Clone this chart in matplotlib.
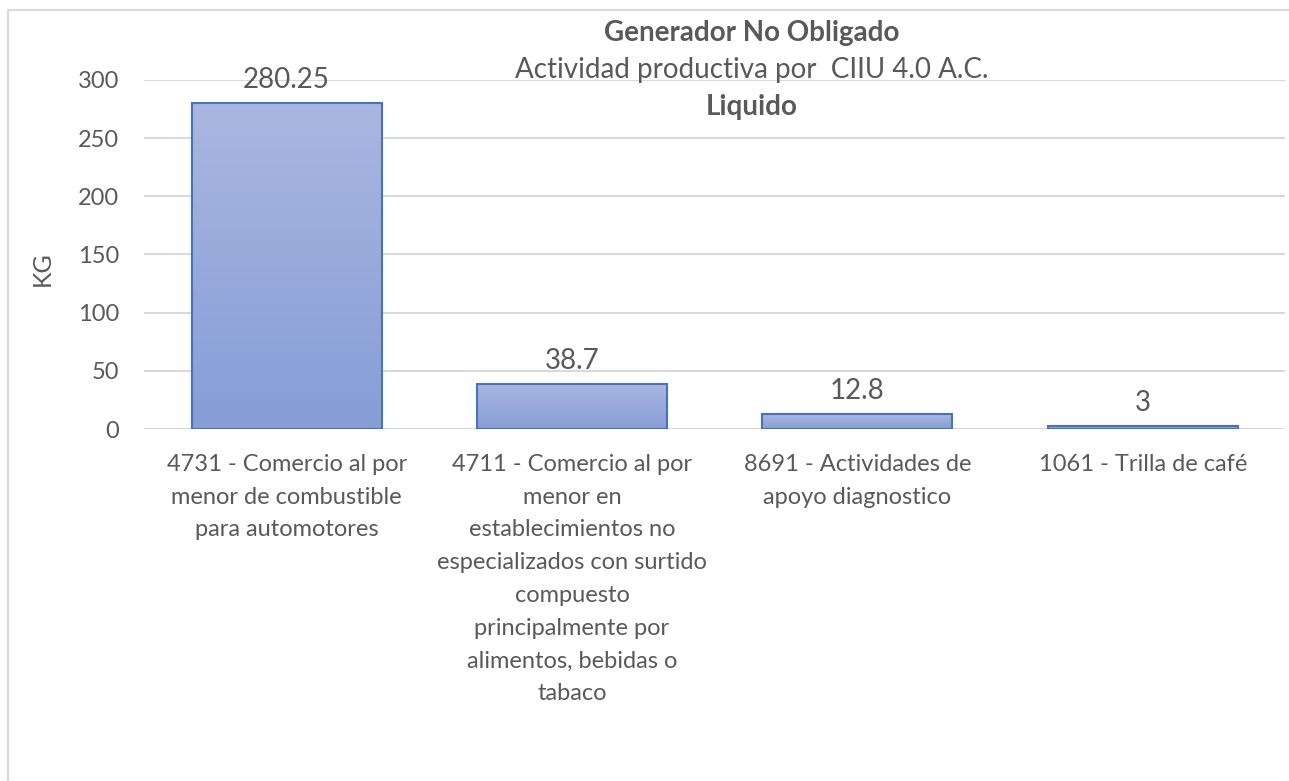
import numpy as np
import matplotlib
matplotlib.use("Agg")
import matplotlib.pyplot as plt
from matplotlib.colors import LinearSegmentedColormap
from matplotlib.lines import Line2D

# datos del grafico
categorias = [
    "4731 - Comercio al por\nmenor de combustible\npara automotores",
    "4711 - Comercio al por\nmenor en\nestablecimientos no\nespecializados con surtido\ncompuesto\nprincipalmente por\nalimentos, bebidas o\ntabaco",
    "8691 - Actividades de\napoyo diagnostico",
    "1061 - Trilla de café",
]
valores = [280.25, 38.7, 12.8, 3]
etiquetas_valor = ["280.25", "38.7", "12.8", "3"]
ticks_y = [0, 50, 100, 150, 200, 250, 300]

GRIS = "#595959"
plt.rcParams["font.family"] = ["Lato", "DejaVu Sans"]

fig = plt.figure(figsize=(12.89, 7.81), dpi=100)
ax = fig.add_axes([0.1117, 0.4507, 0.8855, 0.4469])

# marco del area del grafico (solo se ven borde izq. y sup.)
fig.add_artist(Line2D([8 / 1289, 8 / 1289], [0, 1 - 10 / 781], transform=fig.transFigure,
                      color="#d9d9d9", lw=1.5))
fig.add_artist(Line2D([8 / 1289, 1], [1 - 10 / 781, 1 - 10 / 781], transform=fig.transFigure,
                      color="#d9d9d9", lw=1.5))

x = np.arange(len(valores))
ancho = 0.665
barras = ax.bar(x, valores, width=ancho, facecolor="none", edgecolor="#4472c4", lw=1.5, zorder=3)

# relleno con degradado (claro arriba, mas oscuro abajo)
cmap = LinearSegmentedColormap.from_list("grad", ["#869dd6", "#aab7e0"])
grad = np.linspace(0, 1, 256).reshape(-1, 1)
for b in barras:
    x0, w, h = b.get_x(), b.get_width(), b.get_height()
    ax.imshow(grad, extent=[x0, x0 + w, 0, h], origin="lower", aspect="auto",
              cmap=cmap, zorder=2)

for xi, v, t in zip(x, valores, etiquetas_valor):
    ax.annotate(t, (xi, v), xytext=(0, 7), textcoords="offset points",
                ha="center", va="bottom", fontsize=20, color=GRIS)

ax.set_xlim(-0.5, len(valores) - 0.5)
ax.set_ylim(0, 300)
ax.set_yticks(ticks_y)
ax.set_xticks(x)
ax.set_xticklabels(categorias, fontsize=17, color=GRIS, linespacing=1.69, va="top")
ax.tick_params(axis="y", length=0, pad=18, labelsize=17, labelcolor=GRIS)
ax.tick_params(axis="x", length=0, pad=18)
ax.yaxis.grid(True, color="#d9d9d9", lw=1.5, zorder=0)
ax.set_axisbelow(True)
for s in ax.spines.values():
    s.set_visible(False)
ax.set_ylabel("KG", fontsize=18, color=GRIS)
ax.yaxis.set_label_coords(-0.079, 0.46)

cx = 752 / 1289
fig.text(cx, 1 - 33 / 781, "Generador No Obligado", ha="center", va="center",
         fontsize=20, fontweight="bold", color=GRIS)
fig.text(cx, 1 - 70 / 781, "Actividad productiva por  CIIU 4.0 A.C.", ha="center", va="center",
         fontsize=20, color=GRIS)
fig.text(cx, 1 - 107 / 781, "Liquido", ha="center", va="center",
         fontsize=20, fontweight="bold", color=GRIS)

fig.savefig("out.png", dpi=100, facecolor="white")
